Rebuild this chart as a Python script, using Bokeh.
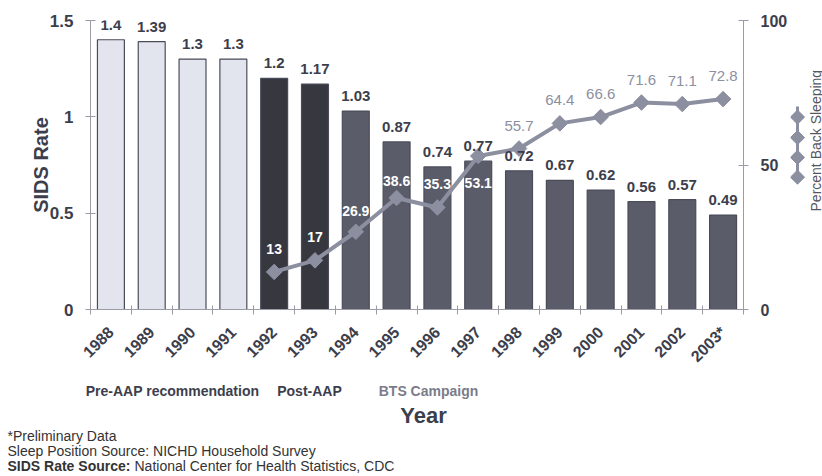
import numpy as np
from bokeh.plotting import figure
from bokeh.layouts import row, column
from bokeh.models import (ColumnDataSource, Range1d, LinearAxis, FixedTicker, LabelSet)
from bokeh.core.properties import value
from bokeh.embed import file_html
from bokeh.resources import INLINE

# ---------------- data ----------------
years = ["1988", "1989", "1990", "1991", "1992", "1993", "1994", "1995",
         "1996", "1997", "1998", "1999", "2000", "2001", "2002", "2003*"]
sids_rate = [1.4, 1.39, 1.3, 1.3, 1.2, 1.17, 1.03, 0.87,
             0.74, 0.77, 0.72, 0.67, 0.62, 0.56, 0.57, 0.49]
rate_labels = ["1.4", "1.39", "1.3", "1.3", "1.2", "1.17", "1.03", "0.87",
               "0.74", "0.77", "0.72", "0.67", "0.62", "0.56", "0.57", "0.49"]
period = ["pre"] * 4 + ["post"] * 2 + ["bts"] * 10

pct_years = ["1992", "1993", "1994", "1995", "1996", "1997",
             "1998", "1999", "2000", "2001", "2002", "2003*"]
back_sleeping = [13, 17, 26.9, 38.6, 35.3, 53.1, 55.7, 64.4, 66.6, 71.6, 71.1, 72.8]
pct_labels = ["13", "17", "26.9", "38.6", "35.3", "53.1",
              "55.7", "64.4", "66.6", "71.6", "71.1", "72.8"]

left_ticks = [0, 0.5, 1, 1.5]
left_tick_labels = ["0", "0.5", "1", "1.5"]
right_ticks = [0, 50, 100]

group_names = ["Pre-AAP recommendation", "Post-AAP", "BTS Campaign"]
x_title = "Year"
left_title = "SIDS Rate"
right_title = "Percent Back Sleeping"
footnotes = ["*Preliminary Data", "Sleep Position Source:  NICHD Household Survey"]
source_bold = "SIDS Rate Source:"
source_rest = "National Center for Health Statistics, CDC"

# ---------------- styles ----------------
FONT = "Liberation Sans"
DARK = "#3c3e4c"
AXC = "#9a9ba6"
LINEC = "#8c8fa0"
period_colors = {"pre": "#e3e5ee", "post": "#36373f", "bts": "#5a5c6a"}
pct_label_dy = [23, 23, 21, 17, 23, -27, 23, 23, 23, 23, 23, 23]
n_inside = 6  # first labels are drawn white inside the bars

MAIN_W, MAIN_H = 790, 380
SIDE_W = 822 - MAIN_W
BOT_H = 476 - MAIN_H

xs = list(range(len(years)))
bar_src = ColumnDataSource(dict(
    x=xs, rate=sids_rate, label=rate_labels,
    color=[period_colors[k] for k in period]))
pct_x = [years.index(y) for y in pct_years]
pct_src = ColumnDataSource(dict(x=pct_x, pct=back_sleeping, label=pct_labels,
                                dy=pct_label_dy))
in_src = ColumnDataSource(dict(x=pct_x[:n_inside], pct=back_sleeping[:n_inside],
                               label=pct_labels[:n_inside], dy=pct_label_dy[:n_inside]))
out_src = ColumnDataSource(dict(x=pct_x[n_inside:], pct=back_sleeping[n_inside:],
                                label=pct_labels[n_inside:], dy=pct_label_dy[n_inside:]))

p = figure(width=MAIN_W, height=MAIN_H, x_range=Range1d(-0.5, len(years) - 0.5),
           y_range=Range1d(0, 1.5), output_backend="svg", toolbar_location=None,
           min_border_left=90, min_border_right=MAIN_W - 745, min_border_top=20,
           min_border_bottom=MAIN_H - 309)
p.background_fill_color = "white"
p.border_fill_color = "white"
p.outline_line_color = None
p.xgrid.visible = False
p.ygrid.visible = False
p.extra_y_ranges = {"pct": Range1d(0, 100)}

# bars
p.vbar(x="x", top="rate", width=0.66, source=bar_src, fill_color="color",
       line_color="#4a4c5a", line_width=1.2)
p.add_layout(LabelSet(x="x", y="rate", text="label", source=bar_src,
                      y_offset=15, text_align="center", text_baseline="middle",
                      text_font=value(FONT), text_font_size="15px",
                      text_font_style="bold", text_color=DARK))

# back-sleeping line
p.line(x="x", y="pct", source=pct_src, y_range_name="pct",
       line_color=LINEC, line_width=4)
p.scatter(x="x", y="pct", source=pct_src, y_range_name="pct", marker="square",
          angle=np.pi / 4, size=11, fill_color=LINEC, line_color=LINEC)
p.add_layout(LabelSet(x="x", y="pct", text="label", source=in_src,
                      y_range_name="pct", y_offset="dy", text_align="center",
                      text_baseline="middle", text_font=value(FONT),
                      text_font_size="14px", text_font_style="bold",
                      text_color="white"))
p.add_layout(LabelSet(x="x", y="pct", text="label", source=out_src,
                      y_range_name="pct", y_offset="dy", text_align="center",
                      text_baseline="middle", text_font=value(FONT),
                      text_font_size="15px", text_font_style="normal",
                      text_color=LINEC))

# left axis
yax = p.yaxis[0]
yax.ticker = FixedTicker(ticks=left_ticks)
yax.major_label_overrides = dict(zip(left_ticks, left_tick_labels))
yax.minor_tick_line_color = None
yax.major_tick_in = 5
yax.major_tick_out = 5
yax.major_label_standoff = 12
yax.axis_line_color = AXC
yax.major_tick_line_color = AXC
yax.major_label_text_font = FONT
yax.major_label_text_font_size = "17px"
yax.major_label_text_font_style = "bold"
yax.major_label_text_color = DARK
yax.axis_label = left_title
yax.axis_label_standoff = -5
yax.axis_label_text_font = FONT
yax.axis_label_text_font_size = "20px"
yax.axis_label_text_font_style = "bold"
yax.axis_label_text_color = DARK

# right axis
rax = LinearAxis(y_range_name="pct", ticker=FixedTicker(ticks=right_ticks))
rax.minor_tick_line_color = None
rax.major_tick_in = 5
rax.major_tick_out = 5
rax.major_label_standoff = 12
rax.axis_line_color = AXC
rax.major_tick_line_color = AXC
rax.major_label_text_font = FONT
rax.major_label_text_font_size = "16px"
rax.major_label_text_font_style = "bold"
rax.major_label_text_color = DARK
p.add_layout(rax, "right")

# x axis
xax = p.xaxis[0]
xax.ticker = FixedTicker(ticks=xs, minor_ticks=[i - 0.5 for i in range(len(years) + 1)])
xax.major_label_overrides = {i: y for i, y in enumerate(years)}
xax.major_tick_line_color = None
xax.major_tick_in = 0
xax.major_tick_out = 5
xax.minor_tick_in = 4
xax.minor_tick_out = 5
xax.minor_tick_line_color = AXC
xax.axis_line_color = AXC
xax.major_label_orientation = np.pi / 4
xax.major_label_standoff = 15
xax.major_label_text_font = FONT
xax.major_label_text_font_size = "16px"
xax.major_label_text_font_style = "bold"
xax.major_label_text_color = DARK

# ---------- side panel: rotated legend swatch and right title ----------
side = figure(width=SIDE_W, height=MAIN_H, x_range=Range1d(0, SIDE_W),
              y_range=Range1d(MAIN_H, 0), output_backend="svg", toolbar_location=None,
              x_axis_type=None, y_axis_type=None, min_border=0)
side.outline_line_color = None
side.xgrid.visible = False
side.ygrid.visible = False
sw_x = 7
side.line(x=[sw_x, sw_x], y=[113, 210], line_color=LINEC, line_width=3)
side.scatter(x=[sw_x] * 4, y=[127, 154, 180, 206], marker="square", angle=np.pi / 4,
             size=10, fill_color=LINEC, line_color=LINEC)
side.text(x=[25], y=[158], text=[right_title], angle=np.pi / 2, text_align="center",
          text_baseline="middle", text_font=value(FONT), text_font_size="14px",
          text_color="#55575f")

# ---------- bottom panel: period labels, x title, footnotes ----------
bot = figure(width=822, height=BOT_H, x_range=Range1d(0, 822),
             y_range=Range1d(BOT_H, 0), output_backend="svg", toolbar_location=None,
             x_axis_type=None, y_axis_type=None, min_border=0)
bot.outline_line_color = None
bot.xgrid.visible = False
bot.ygrid.visible = False
bot.text(x=[172, 309], y=[10, 10], text=group_names[:2], text_align="center",
         text_baseline="middle", text_font=value(FONT), text_font_size="14px",
         text_font_style="bold", text_color=DARK)
bot.text(x=[428], y=[10], text=group_names[2:], text_align="center",
         text_baseline="middle", text_font=value(FONT), text_font_size="14px",
         text_font_style="bold", text_color="#7a7c8a")
bot.text(x=[423], y=[35], text=[x_title], text_align="center",
         text_baseline="middle", text_font=value(FONT), text_font_size="22px",
         text_font_style="bold", text_color=DARK)
bot.text(x=[7, 7], y=[55, 70], text=footnotes, text_align="left",
         text_baseline="middle", text_font=value(FONT), text_font_size="14px",
         text_color="#333333")
bot.text(x=[7], y=[85], text=[source_bold], text_align="left",
         text_baseline="middle", text_font=value(FONT), text_font_size="14px",
         text_font_style="bold", text_color="#333333")
bot.text(x=[134], y=[85], text=[source_rest], text_align="left",
         text_baseline="middle", text_font=value(FONT), text_font_size="14px",
         text_color="#333333")

layout = column(row(p, side, spacing=0), bot, spacing=0)
open("out.html", "w").write(file_html(layout, INLINE))
